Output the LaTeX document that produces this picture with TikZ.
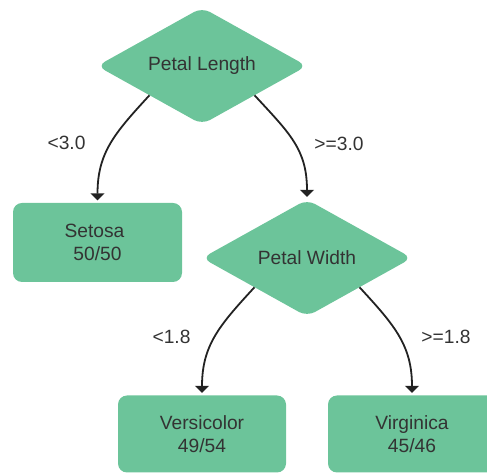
\documentclass[tikz,border=0pt]{standalone}
\usepackage{fontspec}
\setmainfont{Liberation Sans}
\usetikzlibrary{shapes.geometric,arrows.meta}
\definecolor{leafgreen}{RGB}{108,196,154}
\definecolor{inkgray}{RGB}{51,51,51}
\definecolor{wiregray}{RGB}{34,34,34}
\begin{document}
\begin{tikzpicture}[x=1pt,y=1pt,
  every node/.style={text=inkgray,font=\fontsize{19.2}{23}\selectfont},
  decision/.style={diamond,fill=leafgreen,rounded corners=9pt,inner sep=0pt,
    aspect=1.79,minimum width=210pt,minimum height=117pt},
  leaf/.style={rectangle,fill=leafgreen,rounded corners=9pt,align=center,
    minimum width=168pt,minimum height=77pt,inner sep=0pt},
  branch/.style={draw=wiregray,line width=1.8pt,shorten >=2.5pt,
    -{Triangle[width=14pt,length=7pt]}},
  cond/.style={inner sep=0pt}]
\useasboundingbox (0,0) rectangle (487,473);

% decision nodes
\node[decision] (len) at (202,407) {Petal Length};
\node[decision] (wid) at (307,215) {Petal Width};

% leaves
\node[leaf,minimum width=169pt,minimum height=79pt] (setosa) at (97.5,230.5)
  {Setosa\kern6pt\\50/50};
\node[leaf] (versi) at (202,39) {Versicolor\\49/54};
\node[leaf] (virgi) at (412,39) {Virginica\\45/46};

% branches
\draw[branch] (len.south west) .. controls +(-35,-38) and +(0,50) .. (setosa.north);
\draw[branch] (len.south east) .. controls +(35,-38) and +(0,50) .. (wid.north);
\draw[branch] (wid.south west) .. controls +(-35,-38) and +(0,50) .. (versi.north);
\draw[branch] (wid.south east) .. controls +(35,-38) and +(0,50) .. (virgi.north);

% branch conditions
\node[cond] (c1) at (66.5,330) {<3.0};
\node[cond] (c2) at (339,329.5) {>=3.0};
\node[cond] (c3) at (171.5,136.5) {<1.8};
\node[cond] (c4) at (446,136.5) {>=1.8};
\end{tikzpicture}
\end{document}
